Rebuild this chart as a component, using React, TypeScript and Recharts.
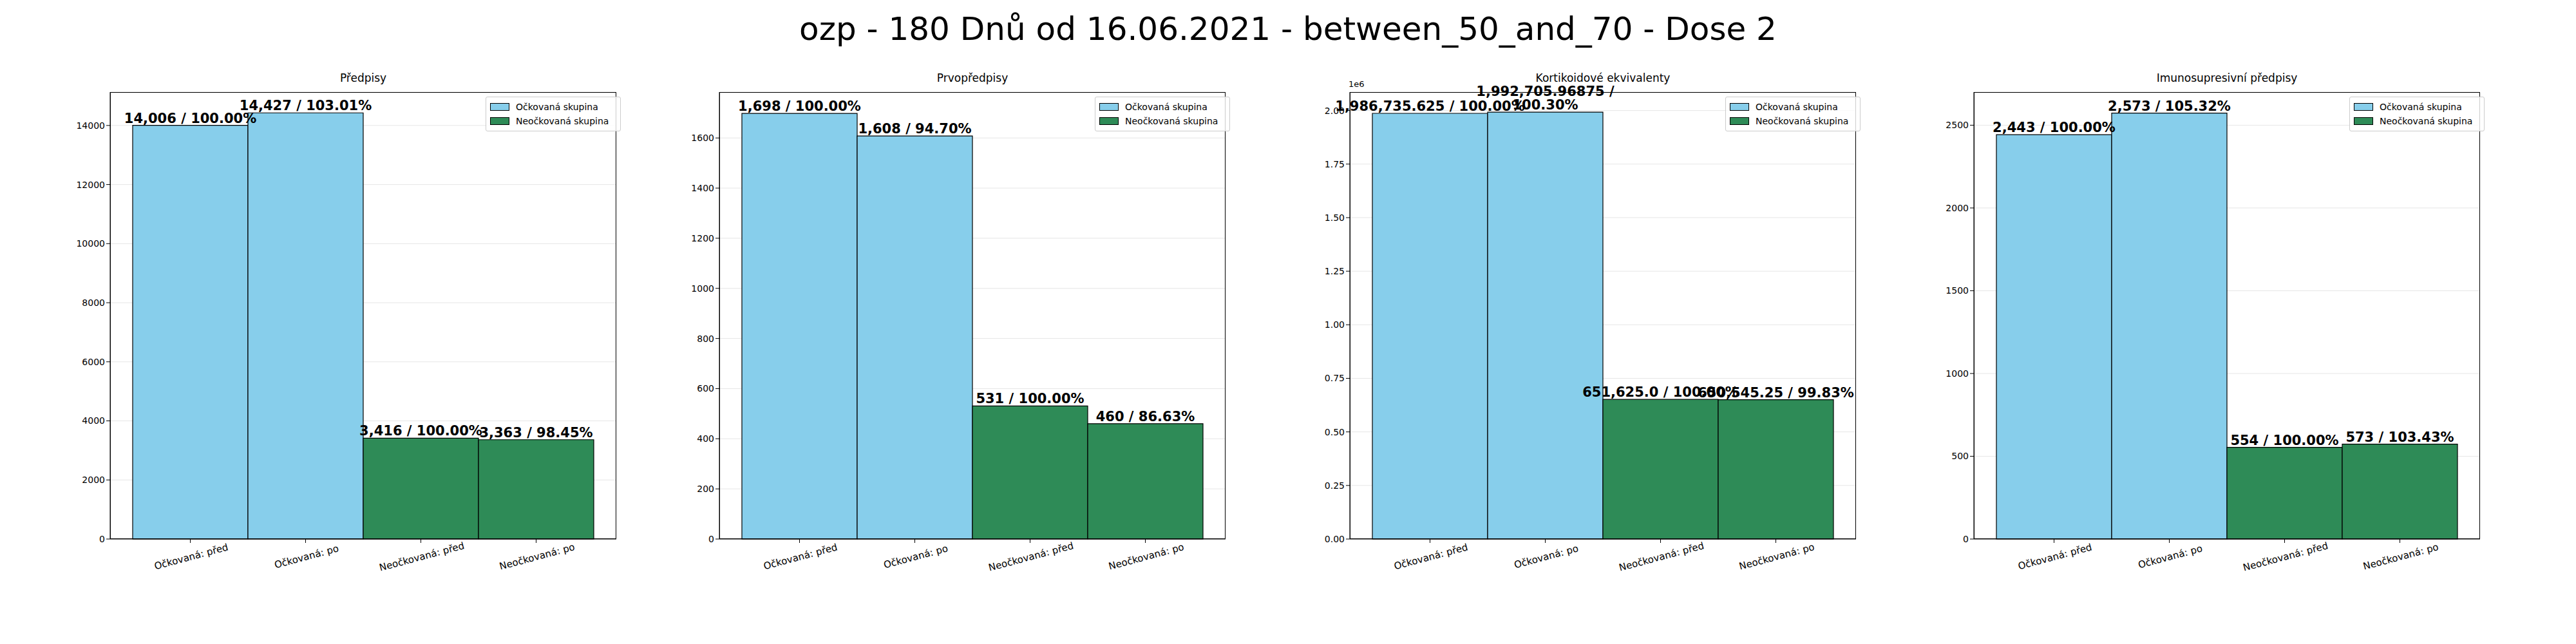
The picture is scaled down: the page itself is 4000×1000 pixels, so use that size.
import { Bar, BarChart, CartesianGrid, Cell, LabelList, XAxis, YAxis } from 'recharts';

const categories = ['Očkovaná: před', 'Očkovaná: po', 'Neočkovaná: před', 'Neočkovaná: po'];
const groupColors = ['#87CEEB', '#87CEEB', '#2E8B57', '#2E8B57'];

const predpisy = [14006, 14427, 3416, 3363];
const prvopredpisy = [1698, 1608, 531, 460];
const kortikoidy = [1986735.625, 1992705.96875, 651625.0, 650545.25];
const imuno = [2443, 2573, 554, 573];

const ticksPredpisy = [0, 2000, 4000, 6000, 8000, 10000, 12000, 14000];
const ticksPrvo = [0, 200, 400, 600, 800, 1000, 1200, 1400, 1600];
const ticksKorti = [0, 250000, 500000, 750000, 1000000, 1250000, 1500000, 1750000, 2000000];
const ticksImuno = [0, 500, 1000, 1500, 2000, 2500];

const panels = [
  { title: 'Předpisy', values: predpisy, ticks: ticksPredpisy, max: 15130, float: false, left: 171 },
  { title: 'Prvopředpisy', values: prvopredpisy, ticks: ticksPrvo, max: 1783, float: false, left: 1117 },
  { title: 'Kortikoidové ekvivalenty', values: kortikoidy, ticks: ticksKorti, max: 2086000, float: true, left: 2096 },
  { title: 'Imunosupresivní předpisy', values: imuno, ticks: ticksImuno, max: 2700, float: false, left: 3065 },
];

const PLOT_W = 786;
const PLOT_H = 694;
const PLOT_TOP = 143;
const Y_W = 90;
const FONT = 'DejaVu Sans, sans-serif';

const fmtNum = (v: number, float: boolean) => {
  if (!float) return v.toLocaleString('en-US');
  const [i, f] = String(v).split('.');
  return Number(i).toLocaleString('en-US') + '.' + (f ?? '0');
};

const Panel = ({ p }: { p: (typeof panels)[number] }) => {
  const data = categories.map((name, i) => {
    const base = p.values[i < 2 ? 0 : 2];
    return {
      name,
      value: p.values[i],
      label: `${fmtNum(p.values[i], p.float)} / ${((p.values[i] / base) * 100).toFixed(2)}%`,
    };
  });
  return (
    <div style={{ position: 'absolute', left: p.left - Y_W, top: PLOT_TOP - 40 }}>
      <div style={{ position: 'absolute', left: Y_W, width: PLOT_W, top: 8, textAlign: 'center', fontSize: 17 }}>
        {p.title}
      </div>
      {p.float && <div style={{ position: 'absolute', left: Y_W - 2, top: 20, fontSize: 13 }}>1e6</div>}
      <BarChart width={Y_W + PLOT_W} height={40 + PLOT_H + 90} data={data} barCategoryGap={0}
        margin={{ top: 40, right: 0, left: 0, bottom: 0 }} style={{ fontFamily: FONT }}>
        <CartesianGrid vertical={false} stroke="#e6e6e6" />
        <XAxis dataKey="name" height={90} padding={{ left: 35, right: 35 }} interval={0}
          tick={{ fontSize: 15, fill: '#000', angle: -15, textAnchor: 'middle', dy: 14 }}
          tickLine={{ stroke: '#000' }} axisLine={{ stroke: '#000' }} />
        <YAxis width={Y_W} domain={[0, p.max]} ticks={p.ticks} interval={0}
          tickFormatter={(v: number) => (p.float ? (v / 1e6).toFixed(2) : String(v))}
          tick={{ fontSize: 14, fill: '#000' }} tickLine={{ stroke: '#000' }} axisLine={{ stroke: '#000' }} />
        <Bar dataKey="value" isAnimationActive={false} stroke="#000" strokeWidth={1.2}>
          {data.map((d, i) => <Cell key={d.name} fill={groupColors[i]} />)}
          <LabelList dataKey="label" position="top" offset={4}
            style={{ fontSize: 21, fontWeight: 'bold', fill: '#000' }} />
        </Bar>
      </BarChart>
      <div style={{ position: 'absolute', left: Y_W, top: 40, width: PLOT_W, height: PLOT_H,
        border: '1px solid #000', boxSizing: 'border-box', pointerEvents: 'none' }} />
      <div style={{ position: 'absolute', left: Y_W + PLOT_W - 203, top: 47, width: 196, padding: '4px 6px',
        border: '1px solid #ccc', borderRadius: 3, background: 'rgba(255,255,255,0.8)', fontSize: 14 }}>
        {[['Očkovaná skupina', '#87CEEB'], ['Neočkovaná skupina', '#2E8B57']].map(([t, c]) => (
          <div key={t} style={{ display: 'flex', alignItems: 'center', height: 22 }}>
            <span style={{ width: 28, height: 10, background: c, border: '1px solid #000', marginRight: 10 }} />
            {t}
          </div>
        ))}
      </div>
    </div>
  );
}

export default function App() {
  return (
    <div style={{ position: 'absolute', left: 0, top: 0, width: 4000, height: 1000, background: '#fff', fontFamily: FONT }}>
      <div style={{ position: 'absolute', top: 16, width: 4000, textAlign: 'center', fontSize: 50 }}>
        ozp - 180 Dnů od 16.06.2021 - between_50_and_70 - Dose 2
      </div>
      {panels.map((p) => <Panel key={p.title} p={p} />)}
    </div>
  );
}
